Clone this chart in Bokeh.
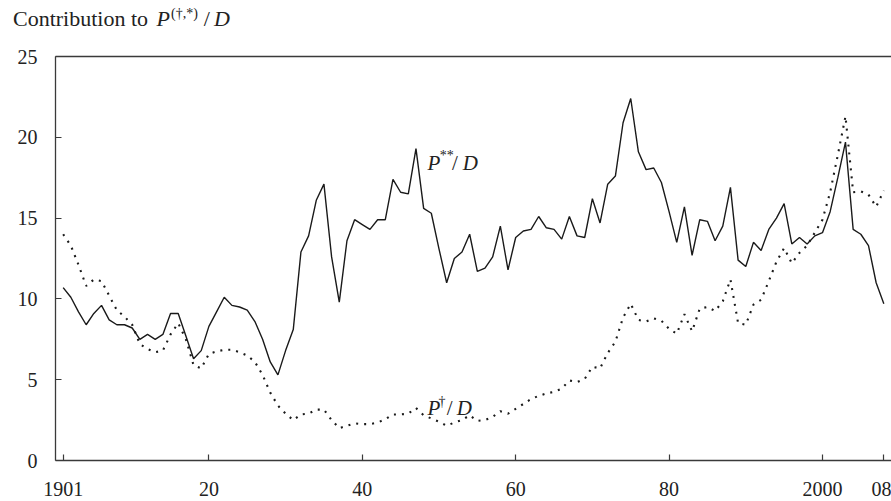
from bokeh.plotting import figure
from bokeh.models import Range1d, FixedTicker, LinearAxis, Label, Div
from bokeh.layouts import column
from bokeh.embed import file_html
from bokeh.resources import INLINE

years = list(range(1901, 2009))

p_starstar = [
    10.7, 10.1, 9.2, 8.4, 9.1, 9.6, 8.7, 8.4, 8.4, 8.2,
    7.5, 7.8, 7.5, 7.8, 9.1, 9.1, 7.7, 6.3, 6.8, 8.3,
    9.2, 10.1, 9.6, 9.5, 9.3, 8.6, 7.5, 6.1, 5.3, 6.8,
    8.1, 12.9, 13.9, 16.1, 17.1, 12.6, 9.8, 13.6, 14.9, 14.6,
    14.3, 14.9, 14.9, 17.4, 16.6, 16.5, 19.3, 15.6, 15.3, 13.1,
    11.0, 12.5, 12.9, 14.0, 11.7, 11.9, 12.6, 14.5, 11.8, 13.8,
    14.2, 14.3, 15.1, 14.4, 14.3, 13.7, 15.1, 13.9, 13.8, 16.2,
    14.7, 17.1, 17.6, 20.9, 22.4, 19.1, 18.0, 18.1, 17.2, 15.4,
    13.5, 15.7, 12.7, 14.9, 14.8, 13.6, 14.5, 16.9, 12.4, 12.0,
    13.5, 13.0, 14.3, 15.0, 15.9, 13.4, 13.8, 13.4, 13.9, 14.1,
    15.4, 17.5, 19.7, 14.3, 14.0, 13.3, 11.0, 9.7,
]

p_dagger = [
    14.0, 13.3, 12.1, 10.8, 11.2, 11.1, 10.2, 9.3, 8.9, 8.4,
    7.2, 6.9, 6.7, 6.8, 7.8, 8.5, 7.5, 5.9, 5.7, 6.6,
    6.75, 6.85, 6.85, 6.7, 6.5, 6.1, 5.3, 4.2, 3.4, 2.9,
    2.5, 2.85, 2.9, 3.15, 3.15, 2.5, 2.0, 2.15, 2.3, 2.25,
    2.25, 2.35, 2.55, 2.85, 2.85, 2.9, 3.25, 2.8, 2.6, 2.4,
    2.15, 2.35, 2.5, 2.8, 2.45, 2.5, 2.7, 3.05, 2.9, 3.2,
    3.5, 3.8, 4.0, 4.15, 4.25, 4.45, 4.95, 4.85, 5.05, 5.8,
    5.7, 6.65, 7.35, 8.85, 9.7, 8.7, 8.6, 8.8, 8.65, 8.15,
    7.85, 9.05, 8.0, 9.4, 9.5, 9.25, 9.85, 11.2, 8.5, 8.4,
    9.65, 9.95, 11.1, 12.3, 13.15, 12.2, 12.85, 13.3, 14.1, 14.9,
    16.6, 18.9, 21.3, 16.6, 16.65, 16.45, 15.7, 16.7,
]

x_ticks = [1901, 1920, 1940, 1960, 1980, 2000, 2008]
x_tick_labels = ["1901", "20", "40", "60", "80", "2000", "08"]
y_ticks = [0, 5, 10, 15, 20, 25]

FONT = "Liberation Serif"
INK = "#222222"
AXIS = "#3a3a3a"

heading = Div(
    text=('Contribution to <i style="margin-left:3px">P</i>'
          '<sup style="font-size:14px;margin-left:1px">(\u2020,*)</sup>'
          '<span style="margin-left:6px">/</span>'
          '<i style="margin-left:4px">D</i>'),
    width=891, height=40, margin=(0, 0, 0, 0),
    styles={"font-family": FONT, "font-size": "22px", "color": INK,
            "padding-left": "13px", "padding-top": "2px",
            "line-height": "24px", "white-space": "nowrap"},
)

p = figure(width=891, height=461, output_backend="svg", toolbar_location=None,
           x_range=Range1d(1900, 2009), y_range=Range1d(0, 25),
           min_border_left=55, min_border_right=0, min_border_top=16,
           min_border_bottom=41, margin=(0, 0, 0, 0))
p.outline_line_color = None
p.xgrid.visible = False
p.ygrid.visible = False
p.background_fill_color = "white"
p.border_fill_color = "white"

for ax in (p.xaxis[0], p.yaxis[0]):
    ax.axis_line_color = AXIS
    ax.axis_line_width = 1.3
    ax.major_tick_line_color = AXIS
    ax.major_tick_line_width = 1.2
    ax.major_tick_in = 6
    ax.major_tick_out = 0
    ax.minor_tick_line_color = None
    ax.major_label_text_font = FONT
    ax.major_label_text_font_size = "20px"
    ax.major_label_text_color = INK

p.xaxis.ticker = FixedTicker(ticks=x_ticks)
p.xaxis.major_label_overrides = {t: s for t, s in zip(x_ticks, x_tick_labels)}
p.xaxis.major_label_standoff = 21
p.yaxis.ticker = FixedTicker(ticks=y_ticks)
p.yaxis.major_label_standoff = 18

top = LinearAxis(ticker=FixedTicker(ticks=[]), axis_line_color=AXIS,
                 axis_line_width=1.3, major_tick_line_color=None,
                 minor_tick_line_color=None, major_label_text_font_size="0px")
p.add_layout(top, "above")

p.line(years, p_starstar, line_color="#1a1a1a", line_width=1.4)
p.line(years, p_dagger, line_color="#1a1a1a", line_width=2.1, line_dash="2 6")

# series labels: (text, x, y, size, style)
pss_parts = [
    ("P", 1948.5, 18.38, "21px", "italic"),
    ("**", 1950.1, 18.85, "14px", "normal"),
    ("/", 1951.7, 18.38, "21px", "normal"),
    ("D", 1953.1, 18.38, "21px", "italic"),
]
pdag_parts = [
    ("P", 1948.5, 3.22, "21px", "italic"),
    ("\u2020", 1949.95, 3.65, "14px", "normal"),
    ("/", 1951.0, 3.22, "21px", "normal"),
    ("D", 1952.3, 3.22, "21px", "italic"),
]
for txt, x, y, size, style in pss_parts + pdag_parts:
    p.add_layout(Label(x=x, y=y, text=txt, text_font=FONT, text_font_size=size,
                       text_font_style=style, text_color=INK,
                       text_baseline="alphabetic", text_align="left"))

layout = column(heading, p, spacing=0, margin=(0, 0, 0, 0))
open("out.html", "w").write(file_html(layout, INLINE))
